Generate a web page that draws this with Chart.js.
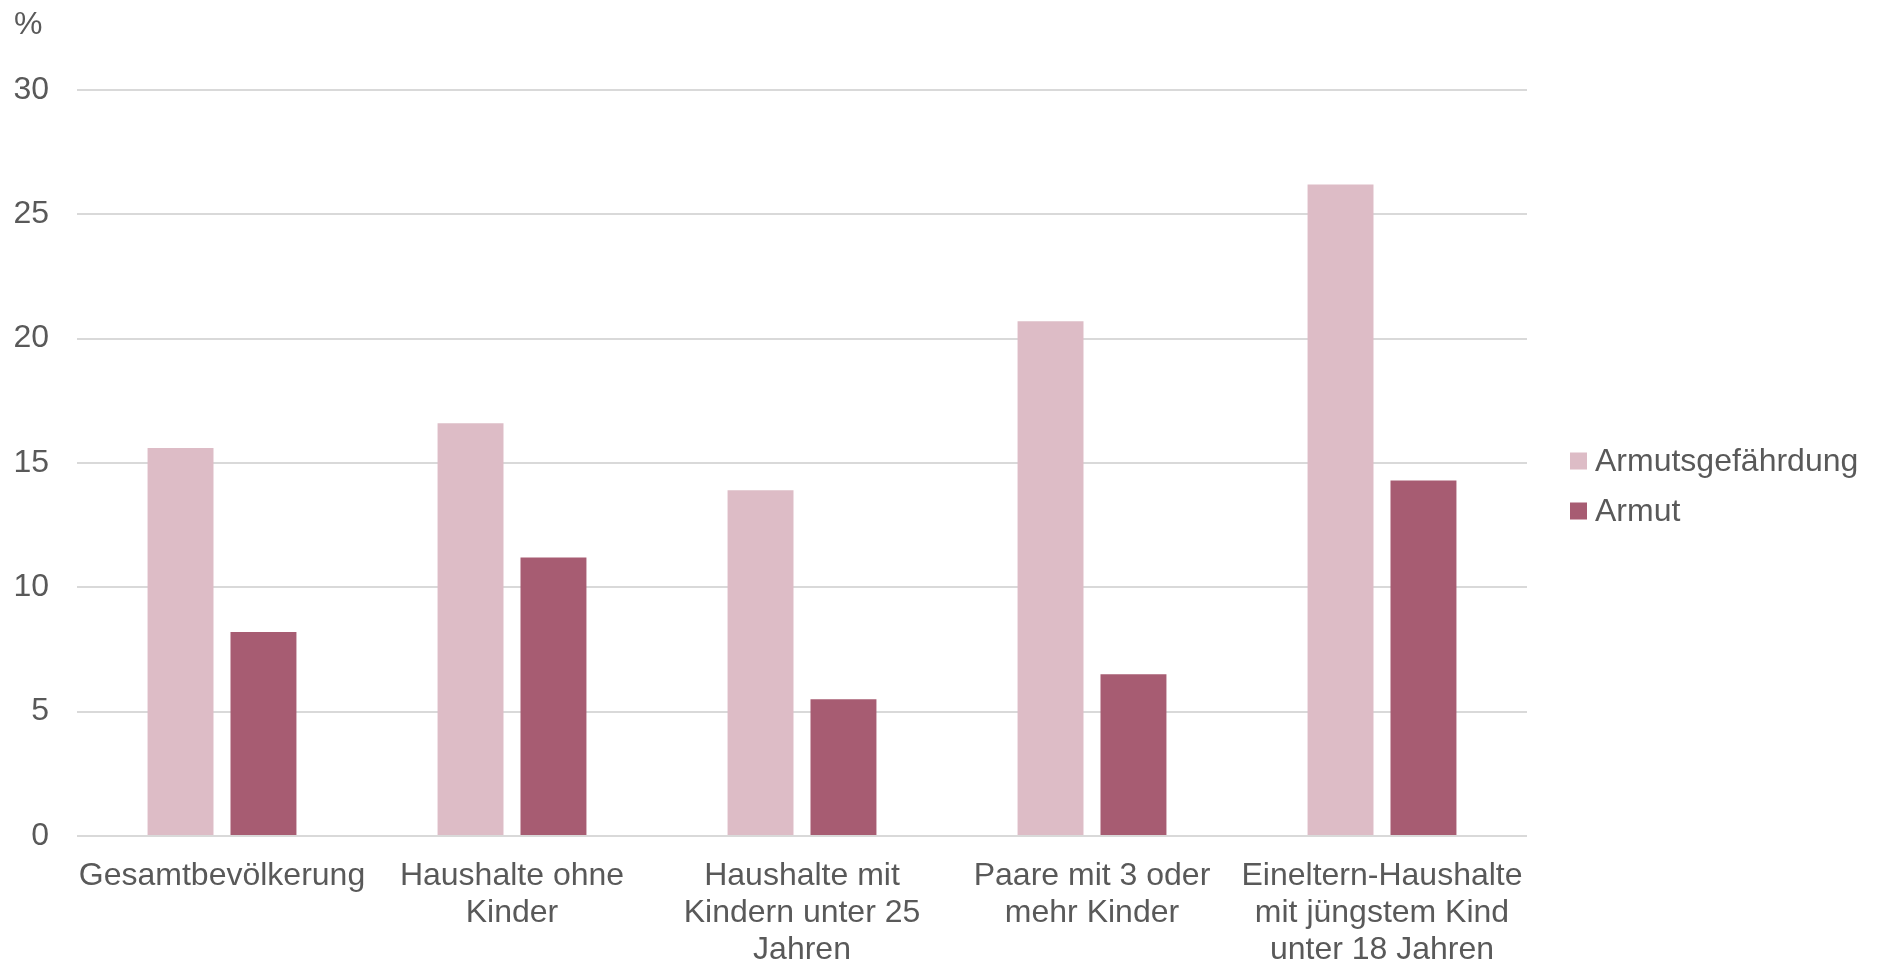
<!DOCTYPE html>
<html lang="de">
<head>
<meta charset="utf-8">
<title>Armutsgefährdung und Armut nach Haushaltstyp</title>
<script src="https://cdn.jsdelivr.net/npm/chart.js@4.4.1/dist/chart.umd.min.js"></script>
<style>
  html, body { margin: 0; padding: 0; background: #ffffff; }
  #wrap { width: 1878px; height: 964px; position: relative; }
</style>
</head>
<body>
<div id="wrap"><canvas id="chart" width="1878" height="964"></canvas></div>
<script>
// Haushaltstypen (mehrzeilige Beschriftungen)
const categories = [
  'Gesamtbevölkerung',
  ['Haushalte ohne', 'Kinder'],
  ['Haushalte mit', 'Kindern unter 25', 'Jahren'],
  ['Paare mit 3 oder', 'mehr Kinder'],
  ['Eineltern-Haushalte', 'mit jüngstem Kind', 'unter 18 Jahren']
];

// Anteile in %
const seriesNames = ['Armutsgefährdung', 'Armut'];
const armutsgefaehrdung = [15.6, 16.6, 13.9, 20.7, 26.2];
const armut = [8.2, 11.2, 5.5, 6.5, 14.3];

// Werteachse
const yMin = 0;
const yMax = 30;
const yStep = 5;
const yUnit = '%';

const FONT = '"Liberation Sans", Arial, Helvetica, sans-serif';
const TEXT = '#595959';
const COLORS = ['#ddbcc6', '#a75c72'];

// Einheit über der Achse und Legende rechts neben dem Diagramm
const annotations = {
  id: 'annotations',
  afterDraw(chart) {
    const ctx = chart.ctx;
    const area = chart.chartArea;
    ctx.save();
    ctx.font = '32px ' + FONT;
    ctx.fillStyle = TEXT;
    ctx.textBaseline = 'middle';
    ctx.textAlign = 'left';
    ctx.fillText(yUnit, 14, 25);

    const x0 = area.right + 43;
    const yCenter = 486;
    const rowGap = 50;
    const box = 17;
    chart.data.datasets.forEach((ds, i) => {
      const y = yCenter + (i - (chart.data.datasets.length - 1) / 2) * rowGap;
      ctx.fillStyle = ds.backgroundColor;
      ctx.fillRect(x0, y - box / 2, box, box);
      ctx.fillStyle = TEXT;
      ctx.fillText(ds.label, x0 + box + 8, y + 1);
    });
    ctx.restore();
  }
};

new Chart(document.getElementById('chart'), {
  type: 'bar',
  data: {
    labels: categories,
    datasets: [
      { label: seriesNames[0], data: armutsgefaehrdung, backgroundColor: COLORS[0] },
      { label: seriesNames[1], data: armut, backgroundColor: COLORS[1] }
    ]
  },
  options: {
    responsive: false,
    animation: false,
    devicePixelRatio: 1,
    layout: { padding: { top: 90, right: 351, bottom: 0, left: 0 } },
    datasets: {
      bar: { categoryPercentage: 0.572, barPercentage: 0.795, borderWidth: 0 }
    },
    plugins: {
      legend: { display: false },
      tooltip: { enabled: false }
    },
    scales: {
      x: {
        grid: { display: false },
        border: { display: false },
        ticks: {
          color: TEXT,
          font: { family: FONT, size: 32, lineHeight: 37 / 32 },
          padding: 14,
          maxRotation: 0,
          autoSkip: false
        },
        afterFit(scale) { scale.height = 128; }
      },
      y: {
        min: yMin,
        max: yMax,
        grid: { color: '#d9d9d9', lineWidth: 2, drawTicks: false },
        border: { display: false },
        ticks: {
          stepSize: yStep,
          color: TEXT,
          font: { family: FONT, size: 32 },
          padding: 28
        },
        afterFit(scale) { scale.width = 77; }
      }
    }
  },
  plugins: [annotations]
});
</script>
</body>
</html>
